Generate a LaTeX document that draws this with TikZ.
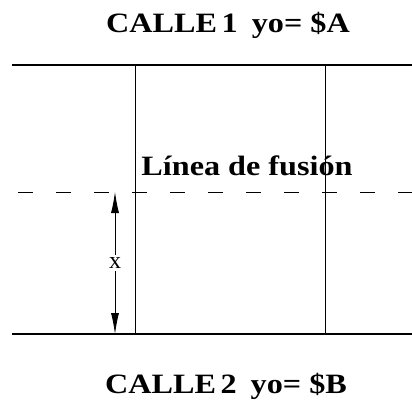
\documentclass[tikz,border=0pt]{standalone}
\usepackage{fontspec}
\setmainfont{Liberation Serif}
\newfontfamily\widefont[FakeStretch=1.15]{Liberation Serif}
\usetikzlibrary{arrows.meta}

\begin{document}
\begin{tikzpicture}[
            x=1pt,y=-1pt,
            >={Latex[length=21pt,width=8pt]},
            street/.style={line width=1.2pt},
            block/.style={line width=0.8pt},
            fusion/.style={line width=0.9pt,dash pattern=on 15pt off 23pt,dash phase=30pt},
            title/.style={anchor=base,font=\widefont\bfseries\fontsize{28}{32}\selectfont},
            dim/.style={fill=white,inner sep=2pt,font=\fontsize{24}{26}\selectfont}
        ]
        \useasboundingbox (0,0) rectangle (412,401);
        \coordinate (c1w) at (12,65);
        \coordinate (c1e) at (412,65);
        \coordinate (c2w) at (12,334);
        \coordinate (c2e) at (412,334);
        \coordinate (fw) at (10,192);
        \coordinate (fe) at (412,192);
        \coordinate (aN) at (135,65);
        \coordinate (aS) at (135,334);
        \coordinate (bN) at (325,65);
        \coordinate (bS) at (325,334);
        \coordinate (xN) at (115,192);
        \coordinate (xS) at (115,334);
        \node[title] (calle1) at (228,33) {CALLE\,1\hspace{0.5em}yo= \$A};
        \node[title] (calle2) at (226,393) {CALLE\,2\hspace{0.5em}yo= \$B};
        \node[title] (linea) at (247,175) {Línea de fusión};
        \draw[street] (c1w) -- (c1e);
        \draw[street] (c2w) -- (c2e);
        \draw[block] (aN) -- (aS);
        \draw[block] (bN) -- (bS);
        \draw[fusion] (fw) -- (fe);
        \draw[<->,block] (xN) -- node[dim] (xlab) {x} (xS);
\end{tikzpicture}
\end{document}
